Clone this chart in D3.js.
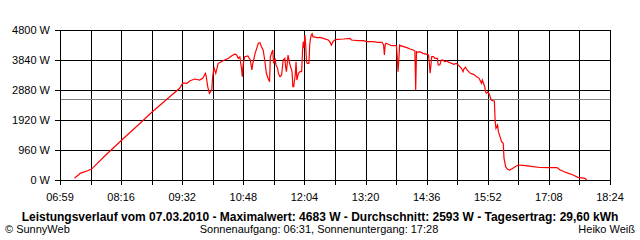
<!DOCTYPE html>
<html>
<head>
<meta charset="utf-8">
<script src="https://cdn.jsdelivr.net/npm/d3@7"></script>
<style>
  html, body { margin: 0; padding: 0; background: #fff; }
  svg { display: block; font-family: "Liberation Sans", Arial, sans-serif; }
</style>
</head>
<body>
<svg id="chart" width="640" height="240"></svg>
<script>
// ---- data ----
const times = [
  "07:17","07:19","07:22","07:24","07:30","07:38","07:56","08:16","08:35","08:54",
  "09:11","09:28","09:32","09:37","09:41","09:47","09:53","09:57","10:00","10:01",
  "10:03","10:05","10:08","10:09","10:10","10:11","10:13","10:16","10:20","10:24",
  "10:29","10:33","10:37","10:39","10:41","10:43","10:45","10:46","10:47","10:49",
  "10:53","10:56","10:58","10:59","11:02","11:04","11:06","11:08","11:10","11:12",
  "11:14","11:16","11:18","11:20","11:21","11:24","11:25","11:27","11:28","11:30",
  "11:31","11:33","11:35","11:37","11:39","11:40","11:41","11:43","11:45","11:48",
  "11:49","11:50","11:52","11:53","11:54","11:56","11:58","12:00","12:01","12:02",
  "12:03","12:04","12:05","12:06","12:07","12:09","12:10","12:11","12:12","12:13",
  "12:14","12:19","12:23","12:27","12:33","12:35","12:37","12:39","12:41","12:44",
  "12:52","13:00","13:02","13:10","13:17","13:21","13:29","13:35","13:40","13:42",
  "13:43","13:44","13:45","13:48","13:50","13:52","13:58","13:59","14:00","14:01",
  "14:02","14:03","14:07","14:11","14:15","14:19","14:21","14:22","14:23","14:25",
  "14:27","14:31","14:36","14:38","14:39","14:40","14:41","14:42","14:44","14:46",
  "14:49","14:50","14:52","14:54","14:56","14:58","15:01","15:03","15:07","15:09",
  "15:13","15:17","15:19","15:21","15:22","15:24","15:26","15:28","15:30","15:34",
  "15:38","15:41","15:43","15:44","15:45","15:46","15:48","15:49","15:50","15:52",
  "15:54","15:56","15:59","16:00","16:01","16:02","16:04","16:05","16:07","16:09",
  "16:11","16:12","16:14","16:16","16:19","16:23","16:26","16:30","16:36","16:48",
  "16:57","17:08","17:18","17:22","17:30","17:38","17:44","17:53","17:55"
];
const watts = [
  54,106,160,214,266,342,800,1280,1728,2186,
  2560,2934,3104,3094,3178,3232,3200,3264,3414,3328,
  2986,2774,2880,3264,3466,3574,3414,3734,3786,3840,
  3894,3978,4032,4000,3894,3936,3574,3306,3680,3946,
  3968,3840,3520,3712,4054,4214,4374,4394,4266,4160,
  3840,3414,3264,3146,3946,4160,3734,3894,3680,3574,
  3414,3306,3360,3840,3894,3626,3466,4000,3734,3466,
  2986,2986,3360,3786,3200,3414,3466,3466,4106,4426,
  4224,4640,4320,3786,3734,3734,4320,4534,4640,4683,
  4586,4554,4566,4534,4480,4426,4320,4426,4480,4502,
  4512,4534,4480,4458,4458,4426,4426,4406,4406,4320,
  4000,4320,4374,4342,4320,4298,4298,3946,3466,3840,
  4320,4298,4266,4234,4192,4160,4128,2880,4106,4086,
  4106,4054,4022,4000,3734,3414,3680,3946,3946,3894,
  3894,3680,3680,3840,3840,3786,3808,3766,3734,3702,
  3734,3626,3574,3466,3552,3606,3520,3466,3414,3382,
  3306,3254,3146,3094,3200,3126,2986,2826,2774,2826,
  2720,2560,2528,2528,1866,1654,1760,1546,1386,1226,
  1174,694,426,352,320,374,426,480,470,426,
  400,394,400,320,234,160,86,54,0
];
const average = 2593;
const yTicks = [0, 960, 1920, 2880, 3840, 4800];
const xTickLabels = ["06:59","08:16","09:32","10:48","12:04","13:20","14:36","15:52","17:08","18:24"];
const startMin = 419, endMin = 1104;   // 06:59 .. 18:24
const xGridCount = 18;

const title = "Leistungsverlauf vom 07.03.2010 - Maximalwert: 4683 W - Durchschnitt: 2593 W - Tagesertrag: 29,60 kWh";
const footLeft = "\u00A9 SunnyWeb";
const footMid = "Sonnenaufgang: 06:31, Sonnenuntergang: 17:28";
const footRight = "Heiko Wei\u00DF";

// ---- layout ----
const svg = d3.select("#chart");
const plotL = 60, plotR = 610, plotT = 30, plotB = 180;

const toMin = s => { const p = s.split(":"); return +p[0] * 60 + +p[1]; };
const data = times.map((t, i) => ({ m: toMin(t), w: watts[i] }));

const x = d3.scaleLinear().domain([startMin, endMin]).range([plotL, plotR]);
const y = d3.scaleLinear().domain([0, 4800]).range([plotB, plotT]);

const gridMins = d3.range(xGridCount + 1).map(i => startMin + i * (endMin - startMin) / xGridCount);

// vertical grid + ticks below
svg.append("g")
  .selectAll("line")
  .data(gridMins)
  .join("line")
  .attr("x1", d => Math.round(x(d)) + 0.5)
  .attr("x2", d => Math.round(x(d)) + 0.5)
  .attr("y1", plotT)
  .attr("y2", plotB + 5)
  .attr("stroke", "#000")
  .attr("stroke-width", 1)
  .attr("shape-rendering", "crispEdges");

// horizontal grid + ticks left
svg.append("g")
  .selectAll("line")
  .data(yTicks)
  .join("line")
  .attr("x1", plotL - 5)
  .attr("x2", plotR + 1)
  .attr("y1", d => Math.round(y(d)) + 0.5)
  .attr("y2", d => Math.round(y(d)) + 0.5)
  .attr("stroke", "#000")
  .attr("stroke-width", 1)
  .attr("shape-rendering", "crispEdges");

// average line
svg.append("line")
  .attr("x1", plotL + 1)
  .attr("x2", plotR)
  .attr("y1", Math.round(y(average)) + 0.5)
  .attr("y2", Math.round(y(average)) + 0.5)
  .attr("stroke", "#808080")
  .attr("shape-rendering", "crispEdges");

// y labels
svg.append("g")
  .selectAll("text")
  .data(yTicks)
  .join("text")
  .attr("x", plotL - 10)
  .attr("y", d => y(d) + 4)
  .attr("text-anchor", "end")
  .attr("font-size", 11)
  .attr("fill", "#000")
  .text(d => d + " W");

// x labels (every second grid line)
svg.append("g")
  .selectAll("text")
  .data(xTickLabels)
  .join("text")
  .attr("x", (d, i) => x(gridMins[i * 2]))
  .attr("y", 201)
  .attr("text-anchor", "middle")
  .attr("font-size", 11)
  .attr("fill", "#000")
  .text(d => d);

// power curve
const line = d3.line()
  .x(d => x(d.m))
  .y(d => y(d.w));

svg.append("path")
  .datum(data)
  .attr("d", line)
  .attr("fill", "none")
  .attr("stroke", "#ff0000")
  .attr("stroke-width", 1.2);

// texts
svg.append("text")
  .attr("x", 320)
  .attr("y", 220.5)
  .attr("text-anchor", "middle")
  .attr("font-size", 12)
  .attr("font-weight", "bold")
  .text(title);

svg.append("text")
  .attr("x", 5)
  .attr("y", 233)
  .attr("font-size", 11)
  .text(footLeft);

svg.append("text")
  .attr("x", 319)
  .attr("y", 233)
  .attr("text-anchor", "middle")
  .attr("font-size", 11)
  .text(footMid);

svg.append("text")
  .attr("x", 635)
  .attr("y", 233)
  .attr("text-anchor", "end")
  .attr("font-size", 11)
  .text(footRight);
</script>
</body>
</html>
